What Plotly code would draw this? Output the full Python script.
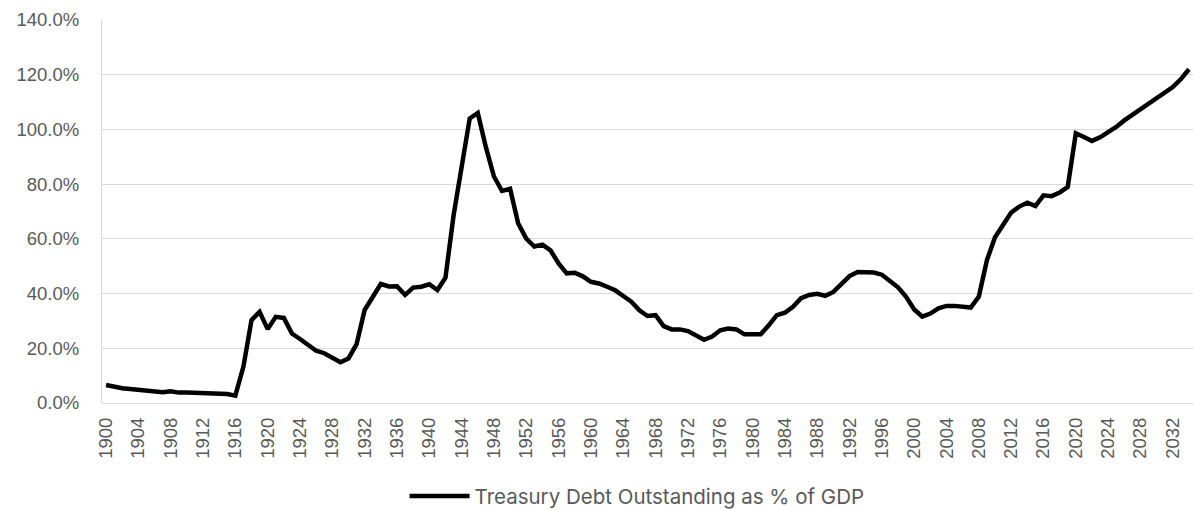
import plotly.graph_objects as go

# Treasury debt outstanding as a share of GDP, one value per year (percent)
years = list(range(1900, 2035))
debt_pct_gdp = [
    # 1900-1909
    6.6, 5.8, 5.4, 5.1, 4.8, 4.5, 4.1, 3.9, 4.3, 3.8,
    # 1910-1919
    3.8, 3.7, 3.5, 3.3, 3.6, 3.3, 2.7, 13.3, 30.3, 33.3,
    # 1920-1929
    27.0, 31.5, 31.1, 25.4, 23.4, 21.2, 19.1, 18.2, 16.7, 14.9,
    # 1930-1939
    16.3, 21.5, 34.0, 38.5, 43.5, 42.6, 42.7, 39.5, 42.2, 42.5,
    # 1940-1949
    43.4, 41.3, 45.8, 68.5, 86.8, 104.0, 106.0, 93.5, 82.8, 77.5,
    # 1950-1959
    78.3, 65.6, 60.1, 57.2, 57.9, 55.8, 51.0, 47.4, 47.6, 46.3,
    # 1960-1969
    44.3, 43.7, 42.5, 41.2, 39.1, 37.0, 33.9, 31.8, 32.1, 28.1,
    # 1970-1979
    26.9, 26.9, 26.3, 24.8, 23.1, 24.3, 26.6, 27.2, 26.9, 25.1,
    # 1980-1989
    25.3, 25.1, 28.4, 32.1, 33.0, 35.2, 38.3, 39.5, 39.9, 39.2,
    # 1990-1999
    40.6, 43.4, 46.4, 47.9, 47.9, 47.7, 46.9, 44.6, 42.3, 38.8,
    # 2000-2009
    34.2, 31.6, 32.7, 34.6, 35.5, 35.5, 35.2, 34.9, 38.9, 52.2,
    # 2010-2019
    60.6, 65.4, 69.6, 71.8, 73.2, 72.0, 75.9, 75.6, 76.9, 79.0,
    # 2020-2029
    98.6, 97.2, 95.8, 97.1, 98.8, 100.9, 103.3, 105.4, 107.5, 109.4,
    # 2030-2034
    111.3, 113.3, 115.5, 118.4, 122.0,
]

series_name = "Treasury Debt Outstanding as % of GDP"
x_tick_years = list(range(1900, 2033, 4))
y_tick_values = list(range(0, 141, 20))

axis_grey = "#595959"
grid_grey = "#d9d9d9"

fig = go.Figure()
fig.add_trace(
    go.Scatter(
        x=years,
        y=debt_pct_gdp,
        mode="lines",
        name=series_name,
        line=dict(color="#000000", width=4.5),
        hoverinfo="x+y",
    )
)

fig.update_layout(
    width=1193,
    height=510,
    margin=dict(l=102, r=0, t=20, b=107),
    paper_bgcolor="#ffffff",
    plot_bgcolor="#ffffff",
    font=dict(family="Liberation Sans, Arial, sans-serif", color=axis_grey, size=18),
    showlegend=True,
    legend=dict(
        orientation="h",
        x=0.534,
        xref="container",
        xanchor="center",
        y=0.027,
        yref="container",
        yanchor="middle",
        font=dict(family="Inter, sans-serif", size=20.5, color=axis_grey),
        itemwidth=60,
        bgcolor="rgba(0,0,0,0)",
    ),
    xaxis=dict(
        range=[1899.5, 2034.5],
        tickmode="array",
        tickvals=x_tick_years,
        ticktext=[str(y) for y in x_tick_years],
        tickangle=-90,
        showgrid=False,
        zeroline=False,
        showline=False,
        ticks="",
        ticklen=0,
        ticklabelstandoff=10,
        tickfont=dict(size=18.5, color=axis_grey),
    ),
    yaxis=dict(
        range=[0, 140],
        tickmode="array",
        tickvals=y_tick_values,
        ticktext=[f"{v:.1f}%" for v in y_tick_values],
        showgrid=True,
        gridcolor=grid_grey,
        gridwidth=1.3,
        zeroline=True,
        zerolinecolor=grid_grey,
        zerolinewidth=1.3,
        showline=True,
        linecolor=grid_grey,
        linewidth=1.3,
        ticks="",
        ticklabelstandoff=18,
        tickfont=dict(size=18.5, color=axis_grey),
    ),
)

fig.write_html("out.html")
